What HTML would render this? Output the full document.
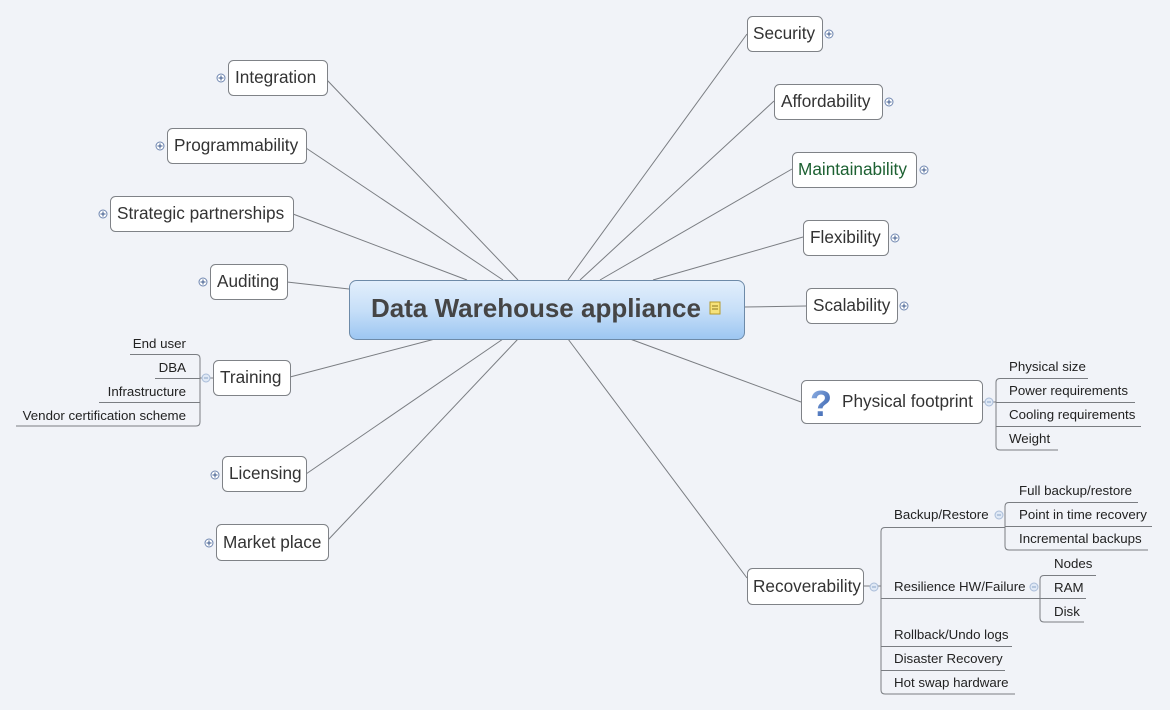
<!DOCTYPE html>
<html><head><meta charset="utf-8"><style>
html,body{margin:0;padding:0;background:#f1f3f8;}
svg{display:block;}
text{font-family:"Liberation Sans",Arial,sans-serif;}
.n{font-size:17.2px;fill:#333;}
.s{font-size:13.3px;fill:#222;}
.box{fill:#fff;stroke:#7f8287;stroke-width:1;}
.ln{stroke:#7a7d82;stroke-width:1;fill:none;}
.pl{fill:#fff;stroke:#6f86b0;stroke-width:1;}
.pm{stroke:#3d5a8c;stroke-width:1;}
.mi{fill:#dfe8f5;stroke:#a9bcd8;stroke-width:1;}
</style></head><body>
<svg width="1170" height="710" viewBox="0 0 1170 710" xmlns="http://www.w3.org/2000/svg">
<defs>
<linearGradient id="cg" x1="0" y1="0" x2="0" y2="1">
<stop offset="0" stop-color="#e3effc"/><stop offset="0.5" stop-color="#c7dff8"/><stop offset="1" stop-color="#9cc6f2"/>
</linearGradient>
<linearGradient id="qg" x1="0" y1="0" x2="1" y2="1">
<stop offset="0" stop-color="#9cbcec"/><stop offset="1" stop-color="#224ea0"/>
</linearGradient>
</defs>
<g class="ln">
<line x1="327" y1="80" x2="518" y2="280"/>
<line x1="306" y1="148" x2="503" y2="280"/>
<line x1="293" y1="214" x2="467" y2="280"/>
<line x1="287" y1="282" x2="349" y2="289"/>
<line x1="290" y1="377" x2="435" y2="339"/>
<line x1="306" y1="474" x2="503" y2="339"/>
<line x1="328" y1="540" x2="518" y2="339"/>
<line x1="747" y1="34" x2="568" y2="280"/>
<line x1="774" y1="101" x2="580" y2="280"/>
<line x1="792" y1="169" x2="600" y2="280"/>
<line x1="803" y1="237" x2="653" y2="280"/>
<line x1="806" y1="306" x2="744" y2="307"/>
<line x1="801" y1="402" x2="630" y2="339"/>
<line x1="747" y1="578" x2="568" y2="339"/>
</g>
<rect x="349.5" y="280.5" width="395" height="59" rx="7" fill="url(#cg)" stroke="#6d8aa8"/>
<text x="371" y="317" font-size="26" font-weight="bold" fill="#454545">Data Warehouse appliance</text>
<rect x="710" y="302" width="10" height="12" fill="#f6e27a" stroke="#b59a2a" stroke-width="1"/>
<line x1="712" y1="306" x2="718" y2="306" stroke="#8a7520"/><line x1="712" y1="309" x2="718" y2="309" stroke="#8a7520"/>

<rect class="box" x="228.5" y="60.5" width="99" height="35" rx="5"/><text class="n" x="235" y="83">Integration</text>
<rect class="box" x="167.5" y="128.5" width="139" height="35" rx="5"/><text class="n" x="174" y="151">Programmability</text>
<rect class="box" x="110.5" y="196.5" width="183" height="35" rx="5"/><text class="n" x="117" y="219">Strategic partnerships</text>
<rect class="box" x="210.5" y="264.5" width="77" height="35" rx="5"/><text class="n" x="217" y="287">Auditing</text>
<rect class="box" x="213.5" y="360.5" width="77" height="35" rx="5"/><text class="n" x="220" y="383">Training</text>
<rect class="box" x="222.5" y="456.5" width="84" height="35" rx="5"/><text class="n" x="229" y="479">Licensing</text>
<rect class="box" x="216.5" y="524.5" width="112" height="36" rx="5"/><text class="n" x="223" y="548">Market place</text>

<rect class="box" x="747.5" y="16.5" width="75" height="35" rx="5"/><text class="n" x="753" y="39">Security</text>
<rect class="box" x="774.5" y="84.5" width="108" height="35" rx="5"/><text class="n" x="781" y="107">Affordability</text>
<rect class="box" x="792.5" y="152.5" width="124" height="35" rx="5"/><text class="n" x="798" y="175" style="fill:#1d6132">Maintainability</text>
<rect class="box" x="803.5" y="220.5" width="85" height="35" rx="5"/><text class="n" x="810" y="243">Flexibility</text>
<rect class="box" x="806.5" y="288.5" width="91" height="35" rx="5"/><text class="n" x="813" y="311">Scalability</text>
<rect class="box" x="801.5" y="380.5" width="181" height="43" rx="5"/><text class="n" x="842" y="407">Physical footprint</text>
<rect class="box" x="747.5" y="568.5" width="116" height="36" rx="5"/><text class="n" x="753" y="592">Recoverability</text>

<text x="810" y="416" font-size="36" font-weight="bold" fill="url(#qg)">?</text>

<g>
<circle class="pl" cx="221" cy="78" r="4"/>
<circle class="pl" cx="160" cy="146" r="4"/>
<circle class="pl" cx="103" cy="214" r="4"/>
<circle class="pl" cx="203" cy="282" r="4"/>
<circle class="pl" cx="215" cy="475" r="4"/>
<circle class="pl" cx="209" cy="543" r="4"/>
<circle class="pl" cx="829" cy="34" r="4"/>
<circle class="pl" cx="889" cy="102" r="4"/>
<circle class="pl" cx="924" cy="170" r="4"/>
<circle class="pl" cx="895" cy="238" r="4"/>
<circle class="pl" cx="904" cy="306" r="4"/>
</g>
<g class="pm">
<path d="M218.5 78h5M221 75.5v5"/>
<path d="M157.5 146h5M160 143.5v5"/>
<path d="M100.5 214h5M103 211.5v5"/>
<path d="M200.5 282h5M203 279.5v5"/>
<path d="M212.5 475h5M215 472.5v5"/>
<path d="M206.5 543h5M209 540.5v5"/>
<path d="M826.5 34h5M829 31.5v5"/>
<path d="M886.5 102h5M889 99.5v5"/>
<path d="M921.5 170h5M924 167.5v5"/>
<path d="M892.5 238h5M895 235.5v5"/>
<path d="M901.5 306h5M904 303.5v5"/>
</g>

<g class="ln">
<path d="M213 378H200"/>
<path d="M130 354.5H196q4 0 4 4V422q0 4-4 4H16"/>
<path d="M155 378.5H200"/>
<path d="M99 402.5H200"/>
</g>
<circle class="mi" cx="206" cy="378" r="4"/><path d="M204 378h4" stroke="#8aa3c8"/>
<g class="s" text-anchor="end">
<text x="186" y="348">End user</text>
<text x="186" y="372">DBA</text>
<text x="186" y="396">Infrastructure</text>
<text x="186" y="420">Vendor certification scheme</text>
</g>

<g class="ln">
<path d="M982 402H996"/>
<path d="M1088 378.5H1000q-4 0-4 4V446q0 4 4 4H1058"/>
<path d="M996 402.5H1135"/>
<path d="M996 426.5H1141"/>
</g>
<circle class="mi" cx="989" cy="402" r="4"/><path d="M987 402h4" stroke="#8aa3c8"/>
<g class="s">
<text x="1009" y="371">Physical size</text>
<text x="1009" y="395">Power requirements</text>
<text x="1009" y="419">Cooling requirements</text>
<text x="1009" y="443">Weight</text>
</g>

<g class="ln">
<path d="M863 586H881"/>
<path d="M1005 527.5H885q-4 0-4 4V690q0 4 4 4H1015"/>
<path d="M881 598.5H1040"/>
<path d="M881 646.5H1012"/>
<path d="M881 670.5H1005"/>
<path d="M1138 502.5H1009q-4 0-4 4V546q0 4 4 4H1148"/>
<path d="M1005 526.5H1152"/>
<path d="M1096 575.5H1044q-4 0-4 4V618q0 4 4 4H1084"/>
<path d="M1040 598.5H1086"/>
</g>
<circle class="mi" cx="874" cy="587" r="4"/><path d="M872 587h4" stroke="#8aa3c8"/>
<circle class="mi" cx="999" cy="515" r="4"/><path d="M997 515h4" stroke="#8aa3c8"/>
<circle class="mi" cx="1034" cy="587" r="4"/><path d="M1032 587h4" stroke="#8aa3c8"/>
<g class="s">
<text x="894" y="519">Backup/Restore</text>
<text x="894" y="591">Resilience HW/Failure</text>
<text x="894" y="639">Rollback/Undo logs</text>
<text x="894" y="663">Disaster Recovery</text>
<text x="894" y="687">Hot swap hardware</text>
<text x="1019" y="495">Full backup/restore</text>
<text x="1019" y="519">Point in time recovery</text>
<text x="1019" y="543">Incremental backups</text>
<text x="1054" y="568">Nodes</text>
<text x="1054" y="592">RAM</text>
<text x="1054" y="616">Disk</text>
</g>
</svg>
</body></html>
